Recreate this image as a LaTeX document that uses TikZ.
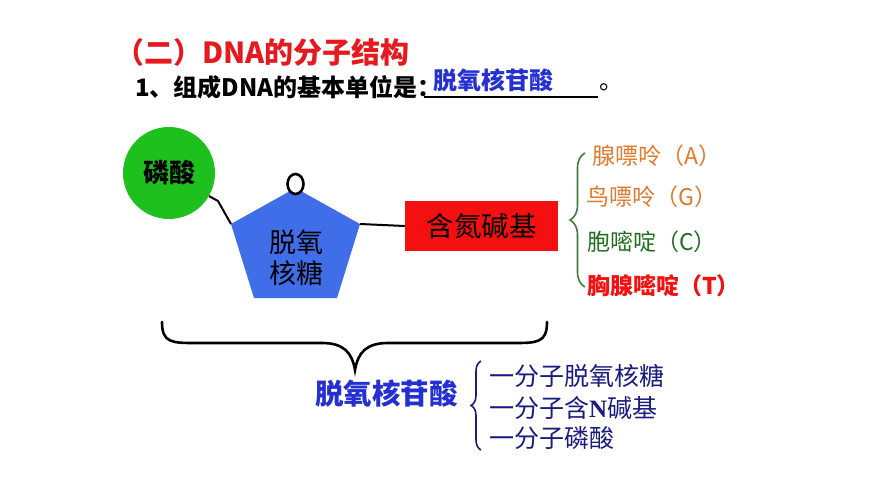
\documentclass[tikz,border=0pt]{standalone}
\usepackage{fontspec}
\setmainfont{Noto Sans CJK SC}
\newfontfamily\latinserif{Liberation Serif}
\usetikzlibrary{positioning,decorations.pathreplacing,shapes.geometric}
\definecolor{TitleRed}{HTML}{E5191E}
\definecolor{AnswerBlue}{HTML}{2430D2}
\definecolor{SugarBlue}{HTML}{3F6EE8}
\definecolor{AcidGreen}{HTML}{1EC01E}
\definecolor{BaseRed}{HTML}{F41010}
\definecolor{PurineOrange}{HTML}{E07B2E}
\definecolor{PyrimGreen}{HTML}{1F6F1F}
\definecolor{BraceGreen}{HTML}{3B7F3B}
\definecolor{PartNavy}{HTML}{1C1C80}
\tikzset{
	nucleotide parts/.style={
		x=1pt,y=-1pt,
		every node/.style={inner sep=0pt},
		link/.style={line width=2pt,black},
		big brace/.style={line width=2.6pt,black,line cap=round}
	},
	heading/.style={
		anchor=west,
		font=\fontsize{29}{32}\selectfont\bfseries,
		text=TitleRed
	},
	question/.style={
		anchor=west,
		font=\fontsize{24}{28}\selectfont\bfseries
	},
	phosphate ball/.style={
		circle,
		fill=AcidGreen,
		minimum size=92pt,
		font=\fontsize{26}{30}\selectfont\bfseries
	},
	sugar text/.style={
		align=center,
		font=\fontsize{27}{31}\selectfont
	},
	base box/.style={
		rectangle,
		fill=BaseRed,
		minimum width=153pt,
		minimum height=50pt,
		font=\fontsize{27.5}{31}\selectfont
	},
	oxygen ring/.style={
		ellipse,
		draw,
		line width=2.6pt,
		fill=white,
		minimum width=16pt,
		minimum height=20pt
	},
	base name/.style={
		anchor=west,
		font=\fontsize{23}{27}\selectfont
	},
	part line/.style={
		anchor=west,
		text=PartNavy,
		font=\fontsize{25}{30}\selectfont
	},
	side brace/.style 2 args={% colour, amplitude
		decorate,
		decoration={brace,amplitude=#2},
		draw=#1,
		line width=1.6pt
	}
}
\begin{document}
\begin{tikzpicture}[nucleotide parts]
	\useasboundingbox[fill=white] (0,0) rectangle (870,489);
	% heading lines
	\node[heading] (title) at (115,52) {（二）DNA的分子结构};
	\node[question] (ask) at (135,87) {1、组成DNA的基本单位是：};
	\node[question,text=AnswerBlue] (answer) at (433,80) {脱氧核苷酸};
	\coordinate (blank-l) at (424,97);
	\coordinate (blank-r) at (598,97);
	\draw[line width=1.4pt] (blank-l) -- (blank-r);
	\node[question,font=\fontsize{24}{28}\selectfont] (stop) at (599,87) {。};
	% deoxyribose
	\coordinate (sugar-t) at (295.5,188);
	\coordinate (sugar-r) at (360,224);
	\coordinate (sugar-br) at (337,298);
	\coordinate (sugar-bl) at (254,298);
	\coordinate (sugar-l) at (231,224);
	\fill[SugarBlue] (sugar-t) -- (sugar-r) -- (sugar-br) -- (sugar-bl) -- (sugar-l) -- cycle;
	\node[sugar text] (sugar) at (296,257.5) {脱氧\\核糖};
	\node[oxygen ring] (ring) at (295.5,184) {};
	% phosphate and base
	\node[phosphate ball] (acid) at (169,173) {磷酸};
	\node[base box] (base) at (481.5,226) {含氮碱基};
	\coordinate (kink) at (218,201);
	\draw[link] (acid.-30) -- (kink) -- (sugar-l);
	\draw[link] (sugar-r) -- (base.west);
	% the four bases
	\draw[side brace={BraceGreen}{15pt}] (585,287) -- (585,153);
	\node[base name,text=PurineOrange] (ade) at (592,156) {腺嘌呤（A）};
	\node[base name,text=PurineOrange] (gua) at (586,197) {鸟嘌呤（G）};
	\node[base name,text=PyrimGreen] (cyt) at (587,242) {胞嘧啶（C）};
	\node[base name,text=BaseRed,font=\fontsize{23}{27}\selectfont\bfseries] (thy) at (587,286) {胸腺嘧啶（T）};
	% whole nucleotide
	\draw[big brace] (162,322) .. controls (162,343) and (172,343) .. (196,343) -- (322,343)
		.. controls (343,343) and (352,352) .. (355,370)
		.. controls (358,352) and (367,343) .. (388,343) -- (513,343)
		.. controls (537,343) and (547,343) .. (547,322);
	\node[anchor=west,text=AnswerBlue,font=\fontsize{28.5}{32}\selectfont\bfseries] (nucleotide) at (315,394) {脱氧核苷酸};
	\draw[side brace={PartNavy}{10pt}] (481,450) -- (481,361);
	\node[part line] (part1) at (489,376) {一分子脱氧核糖};
	\node[part line] (part2) at (489,408) {一分子含{\latinserif\bfseries N}碱基};
	\node[part line] (part3) at (489,438) {一分子磷酸};
\end{tikzpicture}
\end{document}
